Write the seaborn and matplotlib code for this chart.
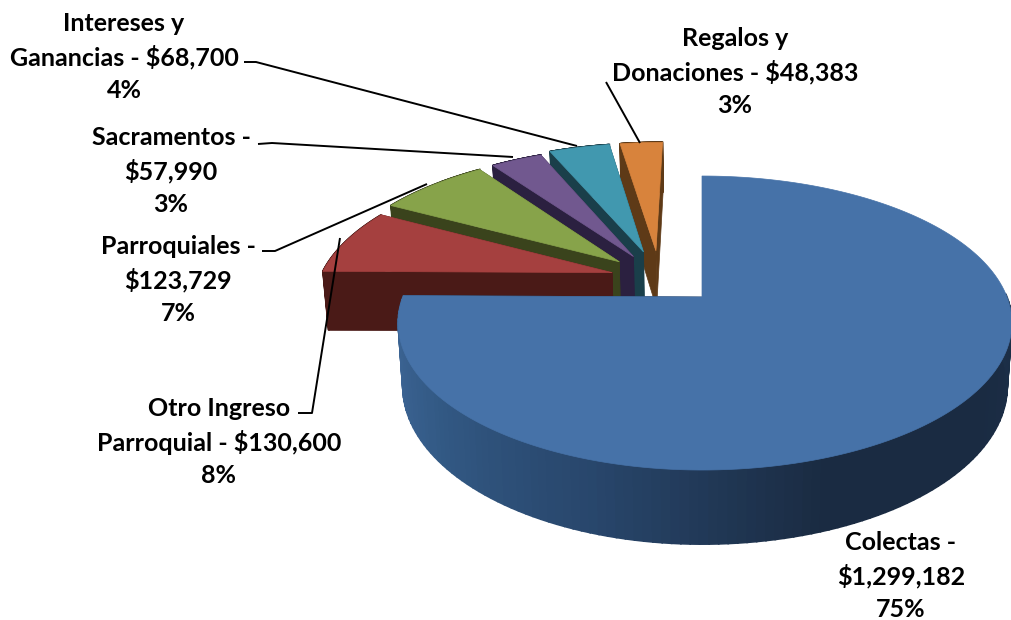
import numpy as np
import seaborn as sns
import matplotlib
matplotlib.use("Agg")
import matplotlib.pyplot as plt

# values from the chart, in drawing order (clockwise from 12 o'clock)
categories = ["Colectas", "Otro Ingreso Parroquial", "Parroquiales",
              "Sacramentos", "Intereses y Ganancias", "Regalos y Donaciones"]
amounts = [1299182, 130600, 123729, 57990, 68700, 48383]
labels = [
    "Colectas -\n$1,299,182\n75%",
    "Otro Ingreso\nParroquial - $130,600\n8%",
    "Parroquiales -\n$123,729\n7%",
    "Sacramentos -\n$57,990\n3%",
    "Intereses y\nGanancias - $68,700\n4%",
    "Regalos y\nDonaciones - $48,383\n3%",
]

# style and layout
top_colors = ["#4672A8", "#A5403F", "#87A34A", "#71588F", "#4198AF", "#D8833C"]
side_colors = ["#1A2B42", "#4A1A17", "#3A431C", "#2B2040", "#1A3F4A", "#5E3A17"]
explode = [0, 0.17, 0.19, 0.19, 0.21, 0.21]
label_pos = [(901, 576), (219, 442), (178, 280), (171, 171), (124, 57), (735, 72)]
leaders = [
    None,
    [(298, 413), (312, 413), (340, 238)],
    [(262, 251), (275, 251), (427, 184)],
    [(258, 144), (272, 143), (513, 157)],
    [(244, 62), (256, 62), (577, 146)],
    [(606, 82), (640, 143)],
]

# perspective of the pie plane, in pixels
CX, CY, RY, PERSP = 702, 297, 142.4, 0.177
RX_LEFT, RX_RIGHT = 299, 305
DEPTH = 61
TAPER = 0.985
SHIFT = (-0.145, 0.135)


def project(x, y):
    w = 1 + PERSP * y
    rx = np.where(x < 0, RX_LEFT, RX_RIGHT)
    return CX + rx * x / w, CY - RY * y / w


def wall(sx, sy):
    # point on the bottom plane below a point of the top plane
    y = (CY - sy) / RY / (1 - PERSP * (CY - sy) / RY)
    return CX + (sx - CX) * TAPER, sy + DEPTH / (1 + PERSP * y)


def draw_slice(ax, wedge, shift, top, side, gradient=None):
    cx, cy = wedge.center
    cx, cy = cx + shift[0], cy + shift[1]
    theta = np.radians(np.linspace(wedge.theta1, wedge.theta2, 181))
    rim_x, rim_y = project(cx + wedge.r * np.cos(theta), cy + wedge.r * np.sin(theta))
    ax0, ay0 = project(np.array(cx), np.array(cy))
    low_x, low_y = wall(rim_x, rim_y)
    ax1, ay1 = wall(ax0, ay0)

    # radial faces
    for i in (0, -1):
        ax.fill([ax0, rim_x[i], low_x[i], ax1],
                [ay0, rim_y[i], low_y[i], ay1],
                color=side, lw=0.5)
    # outer wall, the back half stays hidden
    for i in range(len(theta) - 1):
        if np.sin(theta[i]) > 0.02 and gradient is not None:
            continue
        c = side if gradient is None else gradient[i]
        ax.fill([rim_x[i], rim_x[i + 1], low_x[i + 1], low_x[i]],
                [rim_y[i], rim_y[i + 1], low_y[i + 1], low_y[i]],
                color=c, lw=1.2)
    # top face
    ax.fill(np.r_[ax0, rim_x], np.r_[ay0, rim_y], color=top, lw=0.5)


def gradient_for(wedge):
    ramp = sns.blend_palette(["#41699A", "#335A86", "#28466B", "#1A2B42", "#1A2B42", "#1C2F48"], 181)
    theta = np.linspace(wedge.theta1, wedge.theta2, 181)
    # -180 is the left end of the wall, 0 the right end
    idx = np.clip((theta + 180).astype(int), 0, 180)
    return [ramp[i] for i in idx]


def main():
    sns.set_theme(style="white")
    plt.rcParams["font.family"] = ["Lato", "DejaVu Sans"]

    fig = plt.figure(figsize=(10.12, 6.2), dpi=100)

    # the pie works out the angles, the slices are then drawn in perspective
    pie_ax = fig.add_axes([0, 0, 0.1, 0.1])
    wedges, _ = pie_ax.pie(amounts, startangle=90, counterclock=False,
                           explode=explode, radius=1)
    pie_ax.set_visible(False)

    ax = fig.add_axes([0, 0, 1, 1])
    ax.set_xlim(0, 1012)
    ax.set_ylim(620, 0)
    ax.axis("off")

    # back to front
    for i in [5, 4, 3, 2, 1]:
        draw_slice(ax, wedges[i], SHIFT, top_colors[i], side_colors[i])
    draw_slice(ax, wedges[0], (0, 0), top_colors[0], side_colors[0], gradient_for(wedges[0]))

    for pts in leaders:
        if pts is not None:
            xs, ys = zip(*pts)
            ax.plot(xs, ys, color="black", lw=1.4, solid_capstyle="butt")

    for text, (x, y) in zip(labels, label_pos):
        ax.text(x, y, text, ha="center", va="center", fontsize=18,
                fontweight="bold", color="black", linespacing=1.48)

    fig.savefig("out.png", dpi=100, facecolor="white")


if __name__ == "__main__":
    main()
